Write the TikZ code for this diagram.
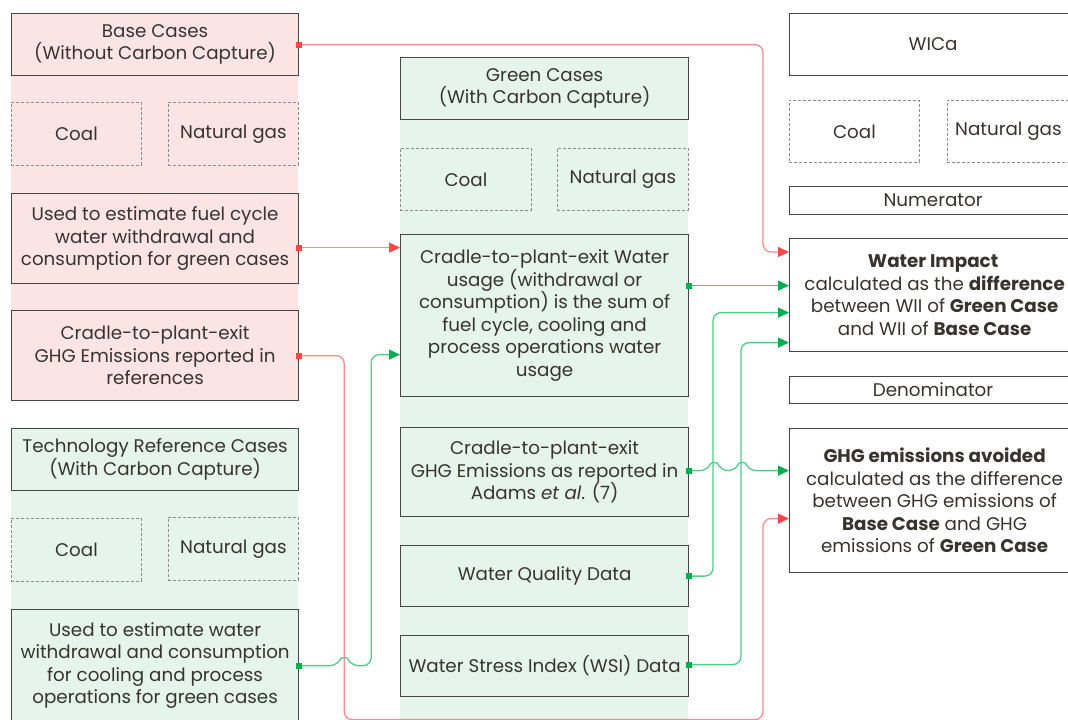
\documentclass[tikz,border=0pt]{standalone}
\usepackage{fontspec}
\setmainfont{Poppins}
\usetikzlibrary{calc,arrows.meta}
\definecolor{pinkfill}{RGB}{252,228,228}
\definecolor{greenfill}{RGB}{229,245,235}
\definecolor{bordc}{RGB}{70,70,70}
\definecolor{dashc}{RGB}{140,140,140}
\definecolor{txtc}{RGB}{55,52,48}
\definecolor{redl}{RGB}{255,140,140}
\definecolor{redt}{RGB}{255,70,70}
\definecolor{greenl}{RGB}{80,205,135}
\definecolor{greent}{RGB}{0,176,80}
\tikzset{
  box/.style={draw=bordc, line width=1.2pt, align=center, inner sep=0pt, anchor=north west, text=txtc, font=\fontsize{18.3}{22.5}\selectfont},
  pbox/.style={box, fill=pinkfill},
  gbox/.style={box, fill=greenfill},
  wbox/.style={box, fill=white},
  dbox/.style={box, draw=dashc, line width=0.8pt, dashed, dash pattern=on 3pt off 2pt},
  rline/.style={draw=redl, line width=1.3pt, rounded corners=8pt, {Square[length=6pt,width=6pt,color=redt]}-{Triangle[length=11pt,width=10pt,color=redt]}, shorten <=-3pt},
  gline/.style={draw=greenl, line width=1.3pt, rounded corners=8pt, {Square[length=6pt,width=6pt,color=greent]}-{Triangle[length=11pt,width=10pt,color=greent]}, shorten <=-3pt},
}
\begin{document}
\begin{tikzpicture}[x=1pt,y=-1pt]
\path[use as bounding box] (0,0) rectangle (1068,720);
\clip (0,0) rectangle (1068,720);
% background bands
\fill[pinkfill] (11,13) rectangle (298,400);
\fill[greenfill] (11,428) rectangle (298,725);
\fill[greenfill] (400,57) rectangle (688,725);
% left column
\node[pbox, minimum width=287pt, minimum height=62pt] (base) at (11,13) {Base Cases\\(Without Carbon Capture)};
\node[dbox, minimum width=130pt, minimum height=63pt] (bcoal) at (11,102) {Coal};
\node[dbox, minimum width=130pt, minimum height=63pt] (bgas) at (168,102) {Natural gas};
\node[pbox, minimum width=287pt, minimum height=90pt] (fuel) at (11,193) {Used to estimate fuel cycle\\water withdrawal and\\consumption for green cases};
\node[pbox, minimum width=287pt, minimum height=90pt] (ghgref) at (11,310) {Cradle-to-plant-exit\\GHG Emissions reported in\\references};
\node[gbox, minimum width=287pt, minimum height=62pt] (tech) at (11,428) {Technology Reference Cases\\(With Carbon Capture)};
\node[dbox, minimum width=130pt, minimum height=63pt] (tcoal) at (11,518) {Coal};
\node[dbox, minimum width=130pt, minimum height=63pt] (tgas) at (168,517) {Natural gas};
\node[gbox, minimum width=287pt, minimum height=112pt] (usew) at (11,609) {Used to estimate water\\withdrawal and consumption\\for cooling and process\\operations for green cases};
\draw[bordc, line width=1.2pt] (usew.south west) -- ++(0,10);
\draw[bordc, line width=1.2pt] (usew.south east) -- ++(0,10);
% middle column
\node[gbox, minimum width=288pt, minimum height=62pt] (green) at (400,57) {Green Cases\\(With Carbon Capture)};
\node[dbox, minimum width=131pt, minimum height=62pt] (gcoal) at (400,148) {Coal};
\node[dbox, minimum width=131pt, minimum height=62pt] (ggas) at (557,148) {Natural gas};
\node[gbox, minimum width=288pt, minimum height=162pt] (cw) at (400,234) {Cradle-to-plant-exit Water\\usage (withdrawal or\\consumption) is the sum of\\fuel cycle, cooling and\\process operations water\\usage};
\node[gbox, minimum width=288pt, minimum height=89pt] (ghgad) at (400,427) {Cradle-to-plant-exit\\GHG Emissions as reported in\\Adams \textit{et al}. (7)};
\node[gbox, minimum width=288pt, minimum height=61pt] (wq) at (400,545) {Water Quality Data};
\node[gbox, minimum width=288pt, minimum height=61pt] (wsi) at (400,635) {Water Stress Index (WSI) Data};
% right column
\node[wbox, minimum width=290pt, minimum height=62pt] (wica) at (789,13) {WICa\hspace*{3pt}};
\node[dbox, minimum width=130pt, minimum height=62pt] (rcoal) at (789,100) {Coal};
\node[dbox, minimum width=130pt, minimum height=62pt] (rgas) at (947,100) {Natural gas\hspace*{8pt}};
\node[wbox, minimum width=290pt, minimum height=28pt] (num) at (789,186) {Numerator\hspace*{3pt}};
\node[wbox, minimum width=290pt, minimum height=113pt] (wi) at (789,238) {\textbf{Water Impact}\hspace*{3pt}\\calculated as the \textbf{difference}\\between WII of \textbf{Green Case}\\and WII of \textbf{Base Case}};
\node[wbox, minimum width=290pt, minimum height=27pt] (den) at (789,376) {Denominator\hspace*{3pt}};
\node[wbox, minimum width=290pt, minimum height=144pt] (gha) at (789,428) {\textbf{GHG emissions avoided}\\calculated as the difference\\between GHG emissions of\\\textbf{Base Case} and GHG\\emissions of \textbf{Green Case}};
% connectors
\draw[rline] (base.east) -| ($(wi.north west)+(-26,14)$) -- ($(wi.north west)+(0,14)$);
\coordinate (f1) at ($(fuel.east)+(0,9)$);
\draw[rline] (f1) -- (f1 -| cw.west);
\draw[rline] (ghgref.east) -| ($(ghgref.east)+(45,364)$) -| ($(gha.west)+(-26,18)$) -- ($(gha.west)+(0,18)$);
% green from usew with jump over red line
\coordinate (u0) at (usew.east);
\draw[gline] (u0) -- ($(u0)+(39,0)$) .. controls +(3,-8) and +(-3,-8) .. ($(u0)+(51,0)$) -- ($(u0)+(72,0)$) |- ($(cw.west)+(0,39)$);
% cw to wi
\coordinate (c5) at ($(cw.east)+(0,-30)$);
\draw[gline] (c5) -- (c5 -| wi.west);
% ghgad to gha with two jumps
\coordinate (g0) at ($(ghgad.east)+(0,-1.5)$);
\draw[gline] (g0) -- ($(g0)+(19,0)$) .. controls +(3,-8) and +(-3,-8) .. ($(g0)+(31,0)$) -- ($(g0)+(47,0)$) .. controls +(3,-8) and +(-3,-8) .. ($(g0)+(59,0)$) -- (g0 -| gha.west);
% wq to wi
\draw[gline] (wq.east) -| ($(wi.west)+(-76,17.5)$) -- ($(wi.west)+(0,17.5)$);
% wsi to wi
\draw[gline] ($(wsi.east)+(0,-1.5)$) -| ($(wi.west)+(-48,47.5)$) -- ($(wi.west)+(0,47.5)$);
\end{tikzpicture}
\end{document}
